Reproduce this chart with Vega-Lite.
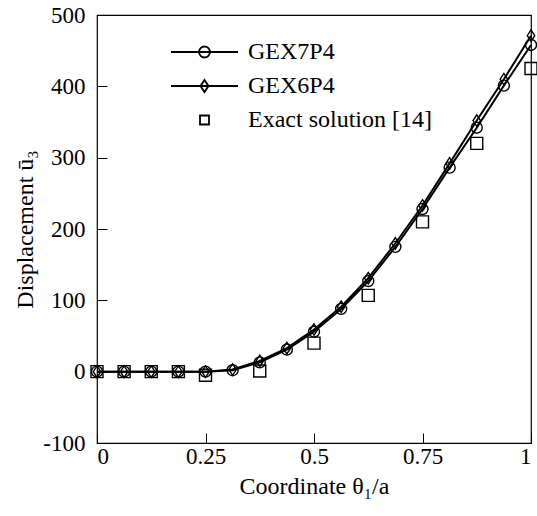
{
  "$schema": "https://vega.github.io/schema/vega-lite/v6.json",
  "width": 434,
  "height": 428,
  "autosize": {"type": "none"},
  "padding": {"left": 97, "top": 15, "right": 6, "bottom": 73},
  "background": "white",
  "config": {
    "view": {"stroke": "#000", "strokeWidth": 1.2},
    "font": "Liberation Serif",
    "axis": {
      "grid": false,
      "domain": false,
      "tickColor": "#000",
      "tickSize": -10,
      "tickWidth": 1,
      "labelFont": "Liberation Serif",
      "labelFontSize": 23,
      "labelColor": "#000",
      "titleFont": "Liberation Serif",
      "titleFontSize": 24,
      "titleFontWeight": "normal",
      "titleColor": "#000"
    }
  },
  "data": {
    "values": [
      {"x": 0, "y": 0, "series": "GEX7P4"},
      {"x": 0.0625, "y": 0, "series": "GEX7P4"},
      {"x": 0.125, "y": 0, "series": "GEX7P4"},
      {"x": 0.1875, "y": 0, "series": "GEX7P4"},
      {"x": 0.25, "y": 0, "series": "GEX7P4"},
      {"x": 0.3125, "y": 2, "series": "GEX7P4"},
      {"x": 0.375, "y": 13, "series": "GEX7P4"},
      {"x": 0.4375, "y": 31, "series": "GEX7P4"},
      {"x": 0.5, "y": 56, "series": "GEX7P4"},
      {"x": 0.5625, "y": 88, "series": "GEX7P4"},
      {"x": 0.625, "y": 127, "series": "GEX7P4"},
      {"x": 0.6875, "y": 175, "series": "GEX7P4"},
      {"x": 0.75, "y": 228, "series": "GEX7P4"},
      {"x": 0.8125, "y": 286, "series": "GEX7P4"},
      {"x": 0.875, "y": 342, "series": "GEX7P4"},
      {"x": 0.9375, "y": 401, "series": "GEX7P4"},
      {"x": 1, "y": 458, "series": "GEX7P4"},
      {"x": 0, "y": 0, "series": "GEX6P4"},
      {"x": 0.0625, "y": 0, "series": "GEX6P4"},
      {"x": 0.125, "y": 0, "series": "GEX6P4"},
      {"x": 0.1875, "y": 0, "series": "GEX6P4"},
      {"x": 0.25, "y": 0, "series": "GEX6P4"},
      {"x": 0.3125, "y": 3, "series": "GEX6P4"},
      {"x": 0.375, "y": 15, "series": "GEX6P4"},
      {"x": 0.4375, "y": 33, "series": "GEX6P4"},
      {"x": 0.5, "y": 59, "series": "GEX6P4"},
      {"x": 0.5625, "y": 91, "series": "GEX6P4"},
      {"x": 0.625, "y": 131, "series": "GEX6P4"},
      {"x": 0.6875, "y": 180, "series": "GEX6P4"},
      {"x": 0.75, "y": 233, "series": "GEX6P4"},
      {"x": 0.8125, "y": 292, "series": "GEX6P4"},
      {"x": 0.875, "y": 352, "series": "GEX6P4"},
      {"x": 0.9375, "y": 410, "series": "GEX6P4"},
      {"x": 1, "y": 471, "series": "GEX6P4"},
      {"x": 0, "y": 0, "series": "Exact solution [14]"},
      {"x": 0.0625, "y": 0, "series": "Exact solution [14]"},
      {"x": 0.125, "y": 0, "series": "Exact solution [14]"},
      {"x": 0.1875, "y": 0, "series": "Exact solution [14]"},
      {"x": 0.25, "y": -5, "series": "Exact solution [14]"},
      {"x": 0.375, "y": 1, "series": "Exact solution [14]"},
      {"x": 0.5, "y": 40, "series": "Exact solution [14]"},
      {"x": 0.625, "y": 107, "series": "Exact solution [14]"},
      {"x": 0.75, "y": 210, "series": "Exact solution [14]"},
      {"x": 0.875, "y": 320, "series": "Exact solution [14]"},
      {"x": 1, "y": 425, "series": "Exact solution [14]"}
    ]
  },
  "encoding": {
    "x": {
      "field": "x",
      "type": "quantitative",
      "scale": {"domain": [0, 1], "nice": false, "zero": false},
      "axis": {
        "values": [0, 0.25, 0.5, 0.75, 1],
        "labelExpr": "'' + datum.value",
        "labelPadding": 12,
        "title": "Coordinate θ₁/a",
        "titlePadding": 6
      }
    },
    "y": {
      "field": "y",
      "type": "quantitative",
      "scale": {"domain": [-100, 500], "nice": false, "zero": false},
      "axis": {
        "values": [-100, 0, 100, 200, 300, 400, 500],
        "labelExpr": "datum.value < 0 ? '-' + abs(datum.value) : '' + datum.value",
        "labelPadding": 22,
        "title": "Displacement ū₃",
        "titlePadding": 5
      }
    }
  },
  "layer": [
    {
      "transform": [{"filter": "datum.series != 'Exact solution [14]'"}],
      "mark": {"type": "line", "color": "#000", "strokeWidth": 2},
      "encoding": {"detail": {"field": "series", "type": "nominal"}}
    },
    {
      "mark": {"type": "point", "filled": false, "color": "#000", "strokeWidth": 1.4, "opacity": 1},
      "encoding": {
        "shape": {
          "field": "series",
          "type": "nominal",
          "scale": {
            "domain": ["GEX7P4", "GEX6P4", "Exact solution [14]"],
            "range": ["circle", "M0,-1L0.65,0L0,1L-0.65,0Z", "square"]
          },
          "legend": null
        },
        "size": {
          "field": "series",
          "type": "nominal",
          "scale": {
            "domain": ["GEX7P4", "GEX6P4", "Exact solution [14]"],
            "range": [121, 144, 58]
          },
          "legend": null
        }
      }
    },
    {
      "transform": [{"filter": "false"}],
      "mark": {"type": "point", "filled": false, "color": "#000", "strokeWidth": 1.5, "opacity": 1},
      "encoding": {
        "shape": {
          "field": "series",
          "type": "nominal",
          "scale": {
            "domain": ["GEX7P4", "GEX6P4", "Exact solution [14]"],
            "range": [
              "M-1,0L1,0M-0.164,0A0.164,0.164,0,1,1,0.164,0A0.164,0.164,0,1,1,-0.164,0",
              "M-1,0L1,0M0,-0.18L0.12,0L0,0.18L-0.12,0Z",
              "M-0.134,-0.134L0.134,-0.134L0.134,0.134L-0.134,0.134Z"
            ]
          },
          "legend": {
            "title": null,
            "orient": "none",
            "legendX": 73,
            "legendY": 27,
            "symbolSize": 4489,
            "symbolStrokeWidth": 1.8,
            "symbolStrokeColor": "#000",
            "symbolFillColor": "transparent",
            "symbolOpacity": 1,
            "clipHeight": 20,
            "rowPadding": 10,
            "labelOffset": 9,
            "labelFont": "Liberation Serif",
            "labelFontSize": 24,
            "labelColor": "#000",
            "labelLimit": 300,
            "padding": 0
          }
        }
      }
    }
  ],
  "resolve": {
    "scale": {"shape": "independent", "size": "independent"},
    "legend": {"shape": "independent", "size": "independent"}
  }
}
